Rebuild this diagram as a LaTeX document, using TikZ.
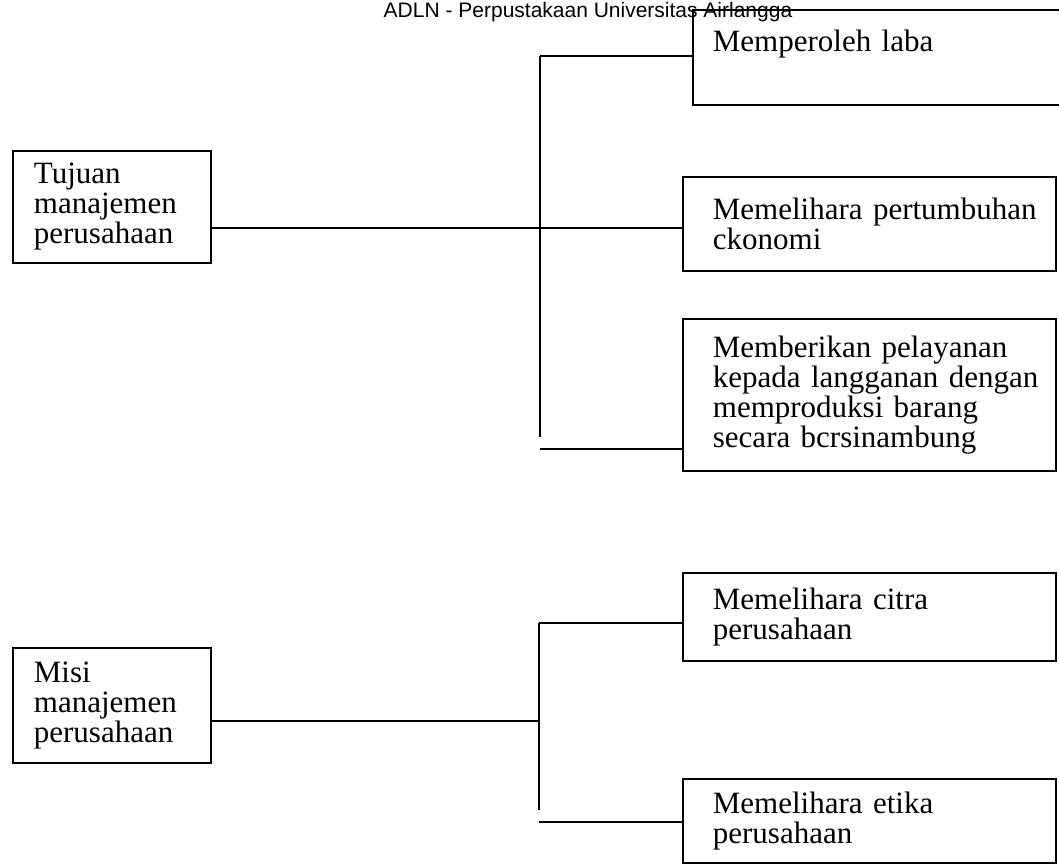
\documentclass[tikz,border=0pt]{standalone}
\usepackage{fontspec}
\setmainfont{Liberation Serif}
\newfontfamily\hdrfont{Liberation Sans}
\begin{document}
\begin{tikzpicture}[x=1pt,y=-1pt,
  line width=1.8pt,
  txt/.style={font=\fontsize{31}{30}\selectfont},
  leftbox/.style={draw, txt, anchor=north west, align=left, text width=156pt, inner xsep=21pt, inner ysep=0pt, minimum width=198pt},
  rightbox/.style={draw, txt, anchor=north west, align=left, text width=313pt, inner xsep=30pt, inner ysep=0pt, minimum width=373pt},
  conn/.style={line width=1.8pt}
]
\useasboundingbox (0,0) rectangle (1059,865);
\fill[white] (0,0) rectangle (1059,865);

\node[font=\hdrfont\fontsize{21}{21}\selectfont, anchor=base] (hdr) at (588,17) {ADLN - Perpustakaan Universitas Airlangga};

% upper group
\node[leftbox, minimum height=112pt] (tujuan) at (12,150) {Tujuan\\manajemen\\perusahaan};
\node[rightbox, draw=none, minimum width=400pt, text width=362pt, inner xsep=19pt, minimum height=93pt] (laba) at (693,10) {\mbox{Memperoleh laba}\\[4pt]\mbox{}};
\draw[conn] (laba.north east) -- (laba.north west) -- (laba.south west) -- (laba.south east);
\node[rightbox, minimum height=94pt] (ekonomi) at (682,176) {\mbox{Memelihara pertumbuhan}\\ckonomi};
\node[rightbox, minimum height=152pt] (layan) at (682,318) {\mbox{Memberikan pelayanan}\\\mbox{kepada langganan dengan}\\\mbox{memproduksi barang}\\\mbox{secara bcrsinambung}};

\coordinate (ta) at (540,56);
\coordinate (tb) at (540,437);
\coordinate (tc) at (540,449);
\coordinate (tm) at (0,228);
\draw[conn] (ta) -- (tb);
\draw[conn] (ta) -- (ta -| laba.west);
\draw[conn] (tc) -- (tc -| layan.west);
\draw[conn] (tm -| tujuan.east) -- (tm -| ekonomi.west);

% lower group
\node[leftbox, minimum height=115pt] (misi) at (12,647) {Misi\\manajemen\\perusahaan};
\node[rightbox, minimum height=88pt] (citra) at (682,572) {Memelihara citra\\perusahaan};
\node[rightbox, minimum height=84pt] (etika) at (682,778) {Memelihara etika\\perusahaan};

\coordinate (la) at (539,623);
\coordinate (lb) at (539,810);
\coordinate (lc) at (539,822);
\coordinate (lm) at (539,721);
\draw[conn] (la) -- (lb);
\draw[conn] (la) -- (la -| citra.west);
\draw[conn] (lc) -- (lc -| etika.west);
\draw[conn] (lm -| misi.east) -- (lm);
\end{tikzpicture}
\end{document}
